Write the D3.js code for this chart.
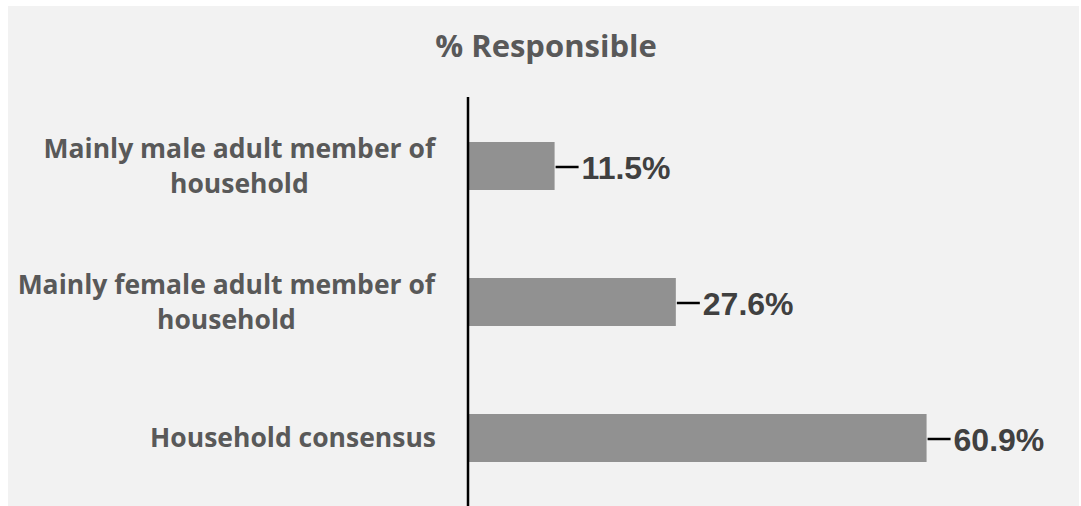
<!DOCTYPE html>
<html><head><meta charset="utf-8">
<script src="https://cdn.jsdelivr.net/npm/d3@7"></script>
<style>html,body{margin:0;padding:0;background:#fff;}svg{display:block;}</style>
</head><body>
<svg id="c" width="1081" height="506"></svg>
<script>
const categories = [
  ["Mainly male adult member of", "household"],
  ["Mainly female adult member of", "household"],
  ["Household consensus"]
];
const values = [11.5, 27.6, 60.9];
const valueLabels = ["11.5%", "27.6%", "60.9%"];
const title = "% Responsible";

const svg = d3.select("#c");
svg.append("rect").attr("x", 8).attr("y", 6).attr("width", 1071).attr("height", 500).attr("fill", "#f2f2f2");

const x = d3.scaleLinear().domain([0, 70]).range([468, 468 + 70 * 7.53]);
const y = d3.scaleBand().domain(d3.range(categories.length)).range([98, 506]).paddingInner(0.647).paddingOuter(0.3235);

svg.append("text").attr("x", 546).attr("y", 57).attr("text-anchor", "middle")
  .attr("font-family", "'Open Sans', sans-serif").attr("font-weight", 700)
  .attr("font-size", 31).attr("fill", "#595959").text(title);

svg.selectAll("rect.bar").data(values).join("rect").attr("class", "bar")
  .attr("x", x(0)).attr("y", (d, i) => y(i))
  .attr("width", d => x(d) - x(0)).attr("height", y.bandwidth())
  .attr("fill", "#919191");

svg.selectAll("line.lead").data(values).join("line").attr("class", "lead")
  .attr("x1", d => x(d) + 1).attr("x2", d => x(d) + 24)
  .attr("y1", (d, i) => y(i) + y.bandwidth() / 2 + 1).attr("y2", (d, i) => y(i) + y.bandwidth() / 2 + 1)
  .attr("stroke", "#000").attr("stroke-width", 2.5);

svg.selectAll("text.val").data(values).join("text").attr("class", "val")
  .attr("x", d => x(d) + 27).attr("y", (d, i) => y(i) + y.bandwidth() / 2 + 13)
  .attr("font-family", "'Liberation Sans', Arial, sans-serif").attr("font-weight", 700)
  .attr("font-size", 32).attr("fill", "#404040").text((d, i) => valueLabels[i]);

const labelRight = 436;
categories.forEach((lines, i) => {
  const g = svg.append("g");
  const cy = y(i) + y.bandwidth() / 2;
  const lh = 35;
  const t = g.append("text").attr("font-family", "'Open Sans', sans-serif").attr("font-weight", 700)
    .attr("font-size", 26.5).attr("fill", "#595959").attr("text-anchor", "middle");
  lines.forEach((ln, j) => {
    t.append("tspan").attr("x", 0).attr("y", cy + (j - (lines.length - 1) / 2) * lh + 9).text(ln);
  });
  const w = t.node().getBBox().width;
  t.attr("transform", `translate(${labelRight - w / 2},0)`);
});

svg.append("line").attr("x1", x(0)).attr("x2", x(0)).attr("y1", 97).attr("y2", 506)
  .attr("stroke", "#000").attr("stroke-width", 2.5);
</script>
</body></html>
